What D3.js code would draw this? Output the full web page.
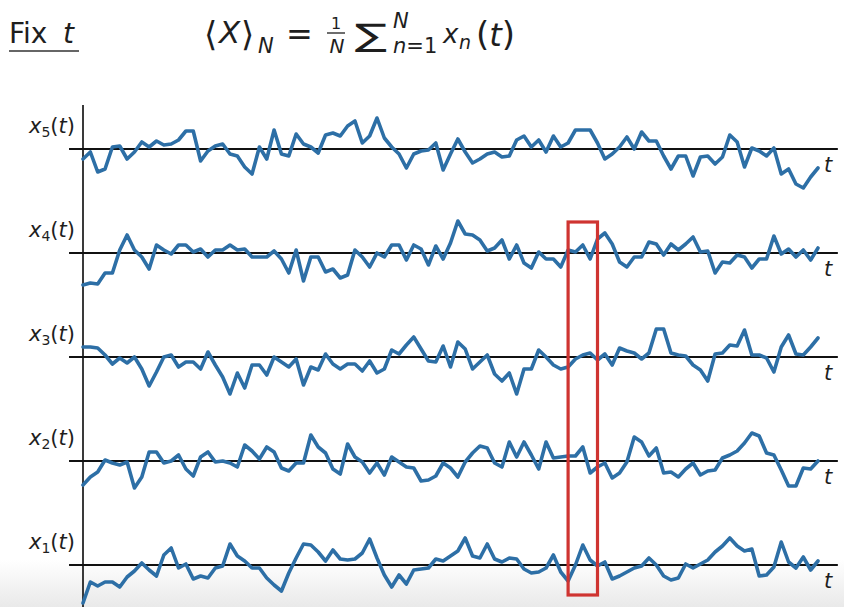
<!DOCTYPE html>
<html><head><meta charset="utf-8">
<script src="https://cdn.jsdelivr.net/npm/d3@7"></script>
<style>body{margin:0;background:#fff} svg{display:block}</style>
</head><body><svg id="c" width="844" height="607"></svg>
<script>
// ---------- data ----------
const timeSteps = d3.range(0, 101);
const seriesIds = [1, 2, 3, 4, 5];
const x1 = [-38,-17,-21,-17,-17,-22,-12,-6,2,-5, -11,10,17,-3,1,-14,-11,-13,-3,-1, 21,9,4,-3,-3,-13,-20,-26,-8,7, 21,20,13,4,15,6,5,6,12,26, 7,-10,-22,-10,-19,-5,-4,-3,6,4, 9, 14,27,9,7,21,6,3,7,6,-4, -8,-7,-3,10,-7,-16,0,20,5,-1, 3,-14,-11,-7,-3,-1,7,0,-11,-15, -13,1,-3,1,5,13,19,27,19,14, 16,-11,-10,-2,23,3,-3,8,-5,4];
const x2 = [-24,-16,-11,1,-2,-4,-1,-27,-16,9, 9,-2,0,6,-8,-15,4,9,-1,0, -2,-6,16,10,2,14,9,-7,-10,-2, -2,26,14,8,-8,-13,17,4,-1,-12, -2,-14,4,-1,-6,-7,-20,-19,-15,-2, -7, -16,-1,8,15,13,-2,-6,19,4,19, 6,-8,19,3,4,5,5,14,-12,-6, -2,-17,-12,-1,24,19,5,13,-12,-11, -16,-8,-2,-14,-10,-9,3,6,10,18, 28,25,8,6,-9,-25,-25,-7,-8,0];
const x3 = [10,10,9,2,-7,-1,-6,0,-12,-29, -15,0,2,-10,-5,-5,-12,5,-8,-20, -37,-16,-31,-8,-8,-18,0,-5,-10,-2, -28,-10,-13,3,-7,-12,-7,-7,-14,-4, -16,-12,7,3,12,20,8,-4,-5,11, -10, 15,8,-12,-5,2,-17,-24,-16,-37,-12, -12,7,0,-8,-12,-10,-2,2,4,-3, 3,-8,9,6,4,-2,4,28,28,4, 2,1,-8,-13,-24,3,4,12,11,27, 2,2,-1,-15,10,22,3,2,10,19];
const x4 = [-32,-30,-31,-20,-20,3,18,3,-4,-16, 8,3,-1,8,8,1,4,-4,3,3, 8,3,4,-4,-4,-4,2,-6,-20,3, -28,-4,-4,-19,-16,-25,-22,3,-4,-14, 0,-4,8,8,-7,8,4,-12,7,-6, 10, 32,19,18,13,2,5,13,-6,8,-10, -15,1,-6,-6,-14,3,1,8,-6,14, 20,9,-9,-14,-4,-4,11,9,-2,9, 3,9,16,1,2,-20,-9,-10,-2,-4, -15,-6,-6,17,-1,4,-4,3,-7,5];
const x5 = [-10,-3,-23,-20,2,3,-10,-3,7,2, 8,4,5,9,18,18,-12,-2,3,5, -5,-7,-18,-25,2,-10,19,-5,-7,15, 5,2,-4,14,16,13,23,28,6,13, 31,11,2,-5,-19,-5,-2,-1,6,-21, -5, 10,-3,-14,-10,-5,-3,-8,-7,9,13, 2,9,-3,13,2,6,19,19,19,6, -10,-5,2,12,0,17,8,8,-7,-20, -7,-7,-27,-8,-7,-15,-8,14,7,-18, 1,-2,-7,1,-25,-20,-35,-39,-28,-19];
const seriesValues = [x1, x2, x3, x4, x5];
const highlightRange = [66, 70];
const timeLabel = "t";

// ---------- layout ----------
const W = 844, H = 607;
const svg = d3.select("#c");
const x = d3.scaleLinear().domain([0, 100]).range([83, 818]);
const row = d3.scaleLinear().domain([1, 5]).range([565, 149]);
const amp = d3.scaleLinear().domain([-40, 40]).range([40, -40]);
const BLUE = "#2d6fa6";
const INK = "#1e1e1e";
const FONT = "'DejaVu Sans', sans-serif";

// subtle bottom shading like the reference frame
const defs = svg.append("defs");
const grad = defs.append("linearGradient").attr("id", "fade").attr("x1", 0).attr("x2", 0).attr("y1", 0).attr("y2", 1);
grad.append("stop").attr("offset", "0%").attr("stop-color", "#ffffff");
grad.append("stop").attr("offset", "100%").attr("stop-color", "#e9e9e9");
svg.append("rect").attr("x", 0).attr("y", 560).attr("width", W).attr("height", H - 560).attr("fill", "url(#fade)");

// title
const tg = svg.append("g").attr("font-family", FONT).attr("fill", INK);
tg.append("text").attr("x", 9).attr("y", 43).attr("font-size", 28).text("Fix");
tg.append("text").attr("x", 63).attr("y", 43).attr("font-size", 28).attr("font-style", "italic").text("t");
svg.append("line").attr("x1", 9).attr("x2", 79).attr("y1", 51).attr("y2", 51).attr("stroke", "#333").attr("stroke-width", 1.5);

// formula  <X>_N = 1/N sum_{n=1}^N x_n(t)
const fm = svg.append("g").attr("font-family", FONT).attr("fill", INK);
const piece = (tx, ty, size, txt, italic) => fm.append("text").attr("x", tx).attr("y", ty)
  .attr("font-size", size).attr("font-style", italic ? "italic" : "normal").text(txt);
piece(204, 46, 34, "\u27E8", false);
piece(219, 43, 31, "X", true);
piece(241, 46, 34, "\u27E9", false);
piece(258, 53, 21, "N", true);
piece(286, 45, 32, "=", false);
fm.append("text").attr("x", 336).attr("y", 29).attr("text-anchor", "middle").attr("font-size", 16).text("1");
fm.append("line").attr("x1", 327).attr("x2", 345).attr("y1", 33).attr("y2", 33).attr("stroke", INK).attr("stroke-width", 1.3);
fm.append("text").attr("x", 337).attr("y", 53).attr("text-anchor", "middle").attr("font-size", 20).attr("font-style", "italic").text("N");
fm.append("text").attr("transform", "translate(355,46) scale(1.6,1.04)").attr("font-size", 30).text("\u2211");
piece(393, 28, 21, "N", true);
const sub = fm.append("text").attr("x", 393).attr("y", 53).attr("font-size", 21);
sub.append("tspan").attr("font-style", "italic").text("n");
sub.append("tspan").text("=1");
piece(443, 43, 26, "x", true);
piece(459, 49, 19, "n", true);
const pt = fm.append("text").attr("x", 476).attr("y", 46).attr("font-size", 34);
pt.append("tspan").text("(");
pt.append("tspan").attr("font-style", "italic").attr("font-size", 32).text("t");
pt.append("tspan").text(")");

// vertical axis
svg.append("line")
  .attr("x1", x(0)).attr("x2", x(0))
  .attr("y1", row(5) - 44).attr("y2", H)
  .attr("stroke", "#3a3a3a").attr("stroke-width", 2);

// traces
const line = d3.line().x((d, i) => x(timeSteps[i])).y(d => amp(d));
const rows = svg.selectAll("g.row").data(seriesIds).join("g")
  .attr("class", "row")
  .attr("transform", d => `translate(0,${row(d)})`);

rows.append("line")
  .attr("x1", x(-1.9)).attr("x2", x(102.7))
  .attr("y1", 0).attr("y2", 0)
  .attr("stroke", "#111").attr("stroke-width", 1.8);

rows.append("path")
  .attr("d", (d, i) => line(seriesValues[i]))
  .attr("fill", "none").attr("stroke", BLUE).attr("stroke-width", 3.6)
  .attr("stroke-linejoin", "round").attr("stroke-linecap", "round");

const lab = rows.append("text")
  .attr("x", x(0) - 8).attr("y", -16)
  .attr("text-anchor", "end").attr("font-family", FONT).attr("font-size", 21).attr("fill", INK);
lab.append("tspan").attr("font-style", "italic").text("x");
lab.append("tspan").attr("font-size", 14).attr("dy", 4).text(d => d);
lab.append("tspan").attr("dy", -4).text("(");
lab.append("tspan").attr("font-style", "italic").text("t");
lab.append("tspan").text(")");

rows.append("text")
  .attr("x", x(100) + 10).attr("y", 23)
  .attr("text-anchor", "middle").attr("font-family", FONT).attr("font-size", 21)
  .attr("font-style", "italic").attr("fill", INK).text(timeLabel);

// highlight box
svg.append("rect")
  .attr("x", x(highlightRange[0])).attr("width", x(highlightRange[1]) - x(highlightRange[0]))
  .attr("y", row(4) + amp(31)).attr("height", (row(1) + amp(-30)) - (row(4) + amp(31)))
  .attr("fill", "none").attr("stroke", "#cf3431").attr("stroke-width", 3.2);
</script></body></html>
